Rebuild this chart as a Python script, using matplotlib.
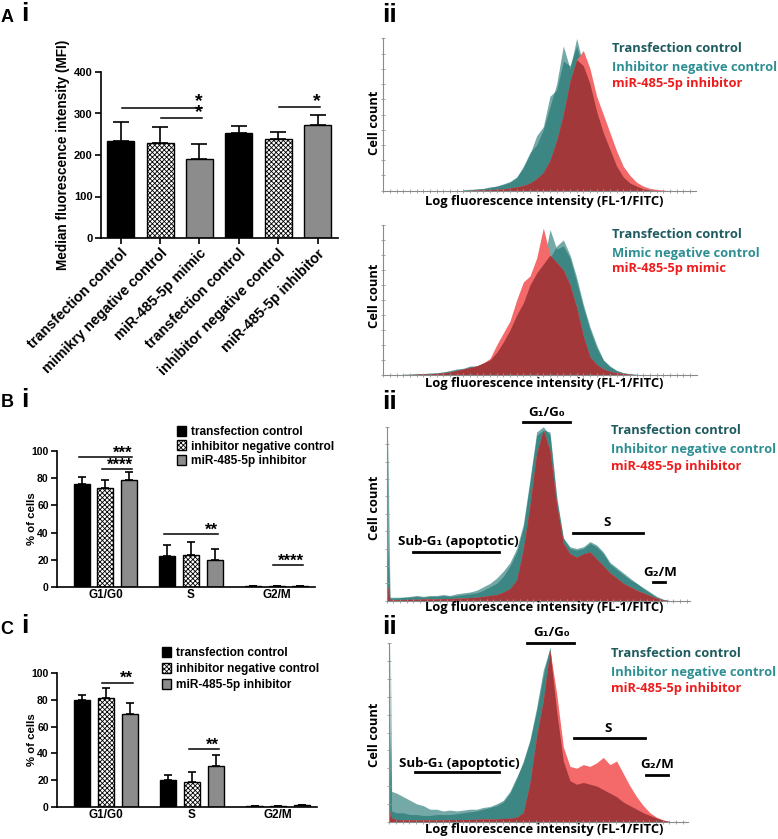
import numpy as np
import matplotlib.pyplot as plt
from matplotlib.lines import Line2D

plt.rcParams['font.weight'] = 'bold'
plt.rcParams['axes.labelweight'] = 'bold'
plt.rcParams['hatch.linewidth'] = 0.6

BAR_FONT = ['Liberation Sans', 'DejaVu Sans']
HIST_FONT = ['Open Sans', 'DejaVu Sans']
plt.rcParams['font.family'] = BAR_FONT

# ---------- data: panel A i (MFI) ----------
a_labels = ['transfection control', 'mimikry negative control', 'miR-485-5p mimic',
            'transfection control', 'inhibitor negative control', 'miR-485-5p inhibitor']
a_mean = [234, 228, 190, 254, 239, 272]
a_err = [45, 40, 36, 16, 16, 24]
a_sig = [(0, 2, 314, '*'), (1, 2, 289, '*'), (4, 5, 315, '*')]

# ---------- data: panels B i / C i (cell cycle, %) ----------
phases = ['G1/G0', 'S', 'G2/M']
series = ['transfection control', 'inhibitor negative control', 'miR-485-5p inhibitor']
b_mean = [[75.5, 23.0, 0.8], [73.0, 23.5, 0.5], [78.5, 20.0, 0.5]]
b_err = [[5.5, 8.0, 0], [6.0, 9.5, 0], [6.0, 7.7, 0]]
b_sig = [(0, 0, 2, 95.4, '***'), (0, 1, 2, 86.5, '****'), (1, 0, 2, 38.7, '**'), (2, 1, 2, 16.0, '****')]
c_mean = [[80.0, 20.0, 0.5], [81.3, 18.5, 0.5], [69.3, 30.3, 1.0]]
c_err = [[3.8, 3.5, 0], [8.0, 7.3, 0], [8.7, 8.2, 0]]
c_sig = [(0, 1, 2, 93.0, '**'), (1, 1, 2, 43.0, '**')]

# ---------- data: histograms (channel, normalised count) ----------
ha1_x = list(range(250, 871, 20))
ha1_tc = [0.004, 0.006, 0.01, 0.014, 0.02, 0.03, 0.04, 0.055, 0.085, 0.16, 0.25, 0.3, 0.4, 0.55, 0.7, 0.95,
          0.8, 1.0, 0.82, 0.68, 0.5, 0.36, 0.25, 0.15, 0.08, 0.045, 0.025, 0.01, 0.004, 0, 0, 0]
ha1_nc = [0.005, 0.008, 0.012, 0.015, 0.025, 0.03, 0.045, 0.06, 0.09, 0.15, 0.24, 0.36, 0.42, 0.62, 0.66, 0.85,
          0.82, 0.95, 0.8, 0.7, 0.52, 0.38, 0.27, 0.16, 0.09, 0.05, 0.03, 0.012, 0.005, 0, 0, 0]
ha1_rd = [0, 0.002, 0.004, 0.005, 0.008, 0.01, 0.012, 0.018, 0.025, 0.035, 0.05, 0.08, 0.12, 0.2, 0.33, 0.5,
          0.72, 0.86, 0.92, 0.8, 0.62, 0.5, 0.38, 0.26, 0.16, 0.1, 0.055, 0.03, 0.015, 0.008, 0.004, 0]

ha2_x = list(range(70, 791, 20))
ha2_tc = [0.004, 0.005, 0.007, 0.01, 0.012, 0.014, 0.02, 0.03, 0.04, 0.045, 0.06, 0.06, 0.08, 0.1, 0.15, 0.2,
          0.29, 0.38, 0.47, 0.58, 0.66, 0.72, 0.78, 0.86, 0.9, 0.8, 0.65, 0.47, 0.32, 0.2, 0.1, 0.06, 0.03,
          0.015, 0.008, 0.004, 0]
ha2_nc = [0.005, 0.006, 0.008, 0.01, 0.012, 0.015, 0.02, 0.025, 0.035, 0.04, 0.055, 0.06, 0.07, 0.09, 0.14,
          0.22, 0.3, 0.4, 0.48, 0.6, 0.68, 0.74, 0.97, 0.84, 0.86, 0.78, 0.62, 0.45, 0.3, 0.18, 0.1, 0.055,
          0.03, 0.015, 0.008, 0.004, 0]
ha2_rd = [0.002, 0.003, 0.005, 0.006, 0.008, 0.01, 0.015, 0.02, 0.03, 0.04, 0.05, 0.06, 0.08, 0.11, 0.2, 0.28,
          0.36, 0.5, 0.62, 0.66, 0.78, 0.98, 0.8, 0.75, 0.7, 0.6, 0.45, 0.26, 0.12, 0.07, 0.04, 0.025, 0.015,
          0.01, 0.005, 0.002, 0]

hb_x = [20, 23] + list(range(30, 871, 20))
hb_tc = [0, 0.94, 0.02, 0.02, 0.02, 0.025, 0.03, 0.025, 0.03, 0.03, 0.035, 0.03, 0.04, 0.045, 0.05, 0.06, 0.08,
         0.1, 0.13, 0.17, 0.22, 0.3, 0.44, 0.7, 0.97, 1.0, 0.95, 0.58, 0.36, 0.31, 0.3, 0.31, 0.34, 0.32,
         0.28, 0.22, 0.19, 0.16, 0.13, 0.1, 0.075, 0.05, 0.025, 0.008, 0]
hb_nc = [0, 0.3, 0.015, 0.015, 0.02, 0.02, 0.025, 0.02, 0.025, 0.025, 0.03, 0.025, 0.03, 0.035, 0.04, 0.045,
         0.06, 0.08, 0.1, 0.14, 0.2, 0.28, 0.42, 0.68, 0.95, 0.98, 0.97, 0.6, 0.36, 0.3, 0.29, 0.3, 0.33,
         0.31, 0.27, 0.21, 0.18, 0.15, 0.12, 0.1, 0.07, 0.045, 0.02, 0.006, 0]
hb_rd = [0, 0.08, 0.005, 0.005, 0.006, 0.008, 0.008, 0.01, 0.01, 0.01, 0.012, 0.012, 0.015, 0.015, 0.018, 0.02,
         0.025, 0.03, 0.035, 0.05, 0.07, 0.12, 0.3, 0.55, 0.85, 0.98, 0.86, 0.55, 0.33, 0.27, 0.25, 0.27,
         0.28, 0.24, 0.2, 0.16, 0.13, 0.1, 0.08, 0.06, 0.045, 0.03, 0.015, 0.005, 0]

hc_x = [28, 31, 35] + list(range(50, 871, 20))
hc_tc = [0, 0.5, 0.06, 0.05, 0.05, 0.04, 0.04, 0.035, 0.035, 0.04, 0.04, 0.04, 0.045, 0.05, 0.055, 0.06,
         0.07, 0.08, 0.09, 0.11, 0.16, 0.24, 0.34, 0.46, 0.64, 0.85, 0.97, 0.62, 0.34, 0.23, 0.21, 0.22,
         0.21, 0.2, 0.18, 0.16, 0.14, 0.11, 0.09, 0.07, 0.05, 0.035, 0.02, 0.008, 0]
hc_nc = [0, 1.0, 0.17, 0.16, 0.14, 0.12, 0.1, 0.09, 0.07, 0.07, 0.06, 0.065, 0.06, 0.065, 0.07, 0.07,
         0.08, 0.085, 0.1, 0.12, 0.17, 0.25, 0.33, 0.45, 0.62, 0.82, 0.98, 0.6, 0.32, 0.22, 0.2, 0.21,
         0.2, 0.19, 0.18, 0.15, 0.13, 0.11, 0.09, 0.07, 0.05, 0.035, 0.02, 0.008, 0]
hc_rd = [0, 0.06, 0.02, 0.012, 0.01, 0.01, 0.01, 0.01, 0.01, 0.01, 0.01, 0.012, 0.012, 0.012, 0.012, 0.014,
         0.015, 0.015, 0.016, 0.018, 0.02, 0.025, 0.05, 0.22, 0.48, 0.68, 0.96, 0.72, 0.42, 0.31, 0.3, 0.32,
         0.31, 0.33, 0.36, 0.32, 0.34, 0.27, 0.2, 0.14, 0.09, 0.05, 0.025, 0.01, 0]

W, H = 778, 839
fig = plt.figure(figsize=(W / 100, H / 100), dpi=100)


def rect(l, r, t, b):
    return [l / W, 1 - b / H, (r - l) / W, (b - t) / H]


def ftext(x, y, s, **kw):
    fig.text(x / W, 1 - y / H, s, **kw)


def fline(x1, x2, y, lw=2.0):
    fig.add_artist(Line2D([x1 / W, x2 / W], [1 - y / H, 1 - y / H], transform=fig.transFigure,
                          color='black', lw=lw))


def style_bar_axes(ax, size):
    for s in ['top', 'right']:
        ax.spines[s].set_visible(False)
    for s in ['left', 'bottom']:
        ax.spines[s].set_linewidth(1.2)
    ax.tick_params(width=1.2, length=4, labelsize=size, pad=2)


fills = ['black', 'white', '#8c8c8c']
hatches = ['', 'xxxxxxx', '']

# ---------- A i ----------
axA = fig.add_axes(rect(101, 338, 72, 238))
xa = np.arange(len(a_mean))
for i in range(len(a_mean)):
    axA.bar(xa[i], a_mean[i], width=0.685, color=fills[i % 3], edgecolor='black',
            hatch=hatches[i % 3], lw=1.0, zorder=2)
axA.errorbar(xa, a_mean, yerr=[np.zeros(len(a_err)), a_err], fmt='none', ecolor='black',
             capsize=6, elinewidth=1.2, capthick=1.2, zorder=3)
for i, j, y, s in a_sig:
    axA.plot([xa[i] + 0.03, xa[j] + 0.07], [y, y], color='black', lw=1.1)
    axA.text(xa[j] - 0.02, y + 3, s, ha='center', va='baseline', fontsize=14)
axA.set_xlim(-0.5, 5.52)
axA.set_ylim(0, 400)
style_bar_axes(axA, 8)
axA.set_yticks([0, 100, 200, 300, 400])
axA.set_xticks(xa, a_labels, rotation=45, ha='right', rotation_mode='anchor', fontsize=10.4)
ftext(63, 155, 'Median fluorescence intensity (MFI)', rotation=90, ha='center', va='center', fontsize=9.8)


# ---------- B i / C i ----------
def cycle_panel(l, r, t, b, mean, err, sig, leg_x, leg_y, leg_sp):
    ax = fig.add_axes(rect(l, r, t, b))
    gx = np.arange(len(phases))
    offs = [-0.275, 0, 0.275]
    handles = []
    for k in range(len(series)):
        h = ax.bar(gx + offs[k], mean[k], width=0.187, color=fills[k], edgecolor='black',
                   hatch=hatches[k], lw=1.0, zorder=2, label=series[k])
        handles.append(h)
        ax.errorbar(gx + offs[k], mean[k], yerr=[np.zeros(len(err[k])), err[k]], fmt='none',
                    ecolor='black', capsize=3, elinewidth=1.2, capthick=1.2, zorder=3)
    for g, i, j, y, s in sig:
        ax.plot([g + offs[i] - 0.04, g + offs[j] + 0.04], [y, y], color='black', lw=1.1)
        ax.text(g + offs[j] + 0.04, y - 0.3, s, ha='right', va='baseline', fontsize=12)
    ax.set_xlim(-0.567, 2.45)
    ax.set_ylim(0, 100)
    style_bar_axes(ax, 7.5)
    ax.set_yticks([0, 20, 40, 60, 80, 100])
    ax.set_xticks(gx, phases, fontsize=8.5)
    ax.tick_params(axis='x', length=0, pad=1.5)
    ftext(32, (t + b) / 2, '% of cells', rotation=90, ha='center', va='center', fontsize=8.2)
    ax.legend(handles=handles, loc='upper left', bbox_to_anchor=(leg_x / W, 1 - leg_y / H),
              bbox_transform=fig.transFigure, frameon=False, fontsize=8.6, handlelength=0.75,
              handleheight=0.9, handletextpad=0.45, labelspacing=leg_sp, borderpad=0, borderaxespad=0)
    return ax


cycle_panel(57, 315, 451, 587, b_mean, b_err, b_sig, 177, 426, 0.2)
cycle_panel(57, 317, 673.3, 806.7, c_mean, c_err, c_sig, 162, 647, 0.33)

# ---------- histograms ----------
TEAL = '#17706c'
LRED = '#f46a6a'
DRED = '#a3383b'


def hist_panel(l, r, t, b, xs, tc, nc, rd, xlim):
    ax = fig.add_axes(rect(l, r, t, b))
    xs = np.array(xs)
    tc, nc, rd = np.array(tc), np.array(nc), np.array(rd)
    ax.fill_between(xs, tc, color=TEAL, alpha=0.6, lw=0)
    ax.fill_between(xs, nc, color=TEAL, alpha=0.6, lw=0)
    ax.fill_between(xs, rd, color=LRED, lw=0)
    ax.fill_between(xs, np.minimum(rd, np.maximum(tc, nc)), color=DRED, lw=0)
    ax.set_xlim(*xlim)
    ax.set_ylim(0, 1.0)
    for s in ['top', 'right']:
        ax.spines[s].set_visible(False)
    for s in ['left', 'bottom']:
        ax.spines[s].set_color('#8a8a8a')
        ax.spines[s].set_linewidth(0.8)
    ax.set_xticks(np.arange(xlim[0], xlim[1], 20))
    ax.set_yticks(np.arange(0, 1.01, 0.1))
    ax.tick_params(direction='inout', length=3, width=0.6, color='#9a9a9a',
                   labelbottom=False, labelleft=False)
    return ax


hist_panel(383.3, 696, 38.3, 190.7, ha1_x, ha1_tc, ha1_nc, ha1_rd, (10, 948))
hist_panel(383.3, 696.7, 225, 375, ha2_x, ha2_tc, ha2_nc, ha2_rd, (10, 950))
hist_panel(386.7, 690, 426.7, 600.7, hb_x, hb_tc, hb_nc, hb_rd, (20, 930))
hist_panel(389.3, 688.3, 643.3, 821.7, hc_x, hc_tc, hc_nc, hc_rd, (28, 925))

C_TC = '#1e5b5f'
C_NC = '#2e8f93'
C_RD = '#ee1c1c'
hfs = 9.3


def hist_legend(x, ys, names):
    for y, s, c in zip(ys, names, [C_TC, C_NC, C_RD]):
        ftext(x, y, s, color=c, ha='left', va='baseline', fontsize=hfs, family=HIST_FONT)


hist_legend(612, [52, 71, 87], ['Transfection control', 'Inhibitor negative control', 'miR-485-5p inhibitor'])
hist_legend(612, [238, 257, 272], ['Transfection control', 'Mimic negative control', 'miR-485-5p mimic'])
hist_legend(611, [434, 453, 470], ['Transfection control', 'Inhibitor negative control', 'miR-485-5p inhibitor'])
hist_legend(611, [657, 676, 692], ['Transfection control', 'Inhibitor negative control', 'miR-485-5p inhibitor'])

for yc in [123, 296, 508, 735]:
    ftext(375, yc, 'Cell count', rotation=90, ha='center', va='center', fontsize=hfs, family=HIST_FONT)
for yc in [202, 384, 607, 829]:
    ftext(544, yc, 'Log fluorescence intensity (FL-1/FITC)', ha='center', va='center', fontsize=hfs,
          family=HIST_FONT)

# phase annotations (B ii, C ii)
for (g1, s_, sub, g2) in [((547, 413, 523, 570, 422), (607, 523, 573, 643, 533),
                           (458, 542, 413, 499, 552), (660, 573, 653, 665, 582)),
                          ((552, 633, 527, 574, 643), (608, 728, 574, 645, 738),
                           (459, 763, 415, 499, 772), (657, 765, 646, 668, 775))]:
    for (cx, cy, x1, x2, ly), lab in zip([g1, s_, sub, g2], ['G₁/G₀', 'S', 'Sub-G₁ (apoptotic)', 'G₂/M']):
        ftext(cx, cy, lab, ha='center', va='center', fontsize=9.6, family=HIST_FONT)
        fline(x1, x2, ly)

# panel letters
for x, y, s, fs in [(7, 17, 'A', 13), (7, 402, 'B', 13), (7, 629, 'C', 13)]:
    ftext(x, y, s, ha='center', va='center', fontsize=fs)
for x, y, s in [(25, 14, 'i'), (25, 400, 'i'), (25, 626, 'i'),
                (390, 15, 'ii'), (390, 402, 'ii'), (390, 627, 'ii')]:
    ftext(x, y, s, ha='center', va='center', fontsize=19)

fig.savefig('out.png', dpi=100)
